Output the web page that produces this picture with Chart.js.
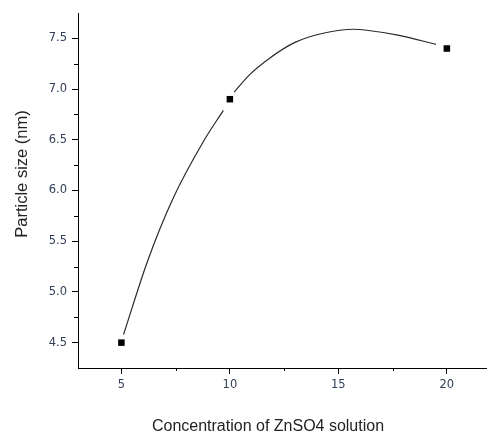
<!DOCTYPE html>
<html>
<head>
<meta charset="utf-8">
<script src="https://cdn.jsdelivr.net/npm/chart.js@4.4.1/dist/chart.umd.min.js"></script>
<style>
  html, body { margin: 0; padding: 0; background: #fff; overflow: hidden; }
  #wrap { width: 487px; height: 434px; position: relative; }
</style>
</head>
<body>
<div id="wrap"><canvas id="c" width="487" height="434"></canvas></div>
<script>
// Measured particle size against ZnSO4 concentration
const concentration = [5, 10, 20];
const particleSize = [4.5, 6.9, 7.4];

// Smoothed trend line traced through the measurements (break at the marker at 10)
const curveX = [5.1, 6.2, 7.4, 8.8, 9.7, 10, 10.2, 10.9, 11.8, 13.0, 14.3, 15.7, 16.3, 17.8, 19.5];
const curveY = [4.58, 5.30, 5.93, 6.49, 6.79, null, 6.97, 7.14, 7.30, 7.46, 7.55, 7.59, 7.58, 7.53, 7.44];

// Axis ticks
const xMajorTicks = [5, 10, 15, 20];
const xMinorTicks = [7.5, 12.5, 17.5];
const yMajorTicks = [4.5, 5.0, 5.5, 6.0, 6.5, 7.0, 7.5];
const yMinorTicks = [4.75, 5.25, 5.75, 6.25, 6.75, 7.25];

const xTitle = 'Concentration of ZnSO4 solution';
const yTitle = 'Particle size (nm)';

const tickColor = '#33405a';
const tickFont = { family: 'DejaVu Sans', size: 11.5 };

// Minor ticks and axis titles
const extras = {
  id: 'extras',
  afterDraw(chart) {
    const { ctx, chartArea, scales } = chart;
    ctx.save();
    ctx.strokeStyle = '#000';
    ctx.lineWidth = 1;
    ctx.beginPath();
    xMinorTicks.forEach(v => {
      const px = Math.round(scales.x.getPixelForValue(v)) + 0.5;
      ctx.moveTo(px, chartArea.bottom);
      ctx.lineTo(px, chartArea.bottom + 3);
    });
    yMinorTicks.forEach(v => {
      const py = Math.round(scales.y.getPixelForValue(v)) + 0.5;
      ctx.moveTo(chartArea.left, py);
      ctx.lineTo(chartArea.left - 4, py);
    });
    ctx.stroke();

    ctx.fillStyle = '#222';
    ctx.textAlign = 'center';
    ctx.textBaseline = 'middle';
    ctx.font = '16px "Liberation Sans", Arial, sans-serif';
    ctx.fillText(xTitle, 268, 427);

    ctx.font = '16.5px "Liberation Sans", Arial, sans-serif';
    ctx.translate(22, 174);
    ctx.rotate(-Math.PI / 2);
    ctx.fillText(yTitle, 0, 0);
    ctx.restore();
  }
};

new Chart(document.getElementById('c'), {
  type: 'line',
  data: {
    datasets: [
      {
        label: 'trend',
        data: curveX.map((x, i) => ({ x: x, y: curveY[i] })),
        borderColor: '#2a2a2a',
        borderWidth: 1.2,
        pointRadius: 0,
        cubicInterpolationMode: 'monotone',
        spanGaps: false,
        fill: false
      },
      {
        label: 'measured',
        data: concentration.map((x, i) => ({ x: x, y: particleSize[i] })),
        showLine: false,
        pointStyle: 'rect',
        pointRadius: 4.6,
        pointBackgroundColor: '#000',
        pointBorderColor: '#000',
        pointBorderWidth: 0
      }
    ]
  },
  options: {
    responsive: false,
    animation: false,
    layout: { autoPadding: false, padding: { top: 13, right: 0, bottom: 0, left: 0 } },
    plugins: { legend: { display: false }, tooltip: { enabled: false } },
    scales: {
      x: {
        type: 'linear',
        min: 3,
        max: 21.85,
        afterBuildTicks(scale) { scale.ticks = xMajorTicks.map(v => ({ value: v })); },
        afterFit(scale) { scale.height = 66; scale.paddingLeft = 0; scale.paddingRight = 0; },
        grid: { drawOnChartArea: false, tickLength: 6, color: '#000', tickColor: '#000' },
        border: { display: true, color: '#000', width: 1 },
        ticks: { color: tickColor, font: tickFont, padding: 4, maxRotation: 0, autoSkip: false }
      },
      y: {
        type: 'linear',
        min: 4.25,
        max: 7.75,
        afterBuildTicks(scale) { scale.ticks = yMajorTicks.map(v => ({ value: v })); },
        afterFit(scale) { scale.width = 78; scale.paddingTop = 0; scale.paddingBottom = 0; },
        grid: { drawOnChartArea: false, tickLength: 6, color: '#000', tickColor: '#000' },
        border: { display: true, color: '#000', width: 1 },
        ticks: {
          color: tickColor, font: tickFont, padding: 5, autoSkip: false,
          callback: v => v.toFixed(1)
        }
      }
    }
  },
  plugins: [extras]
});
</script>
</body>
</html>
